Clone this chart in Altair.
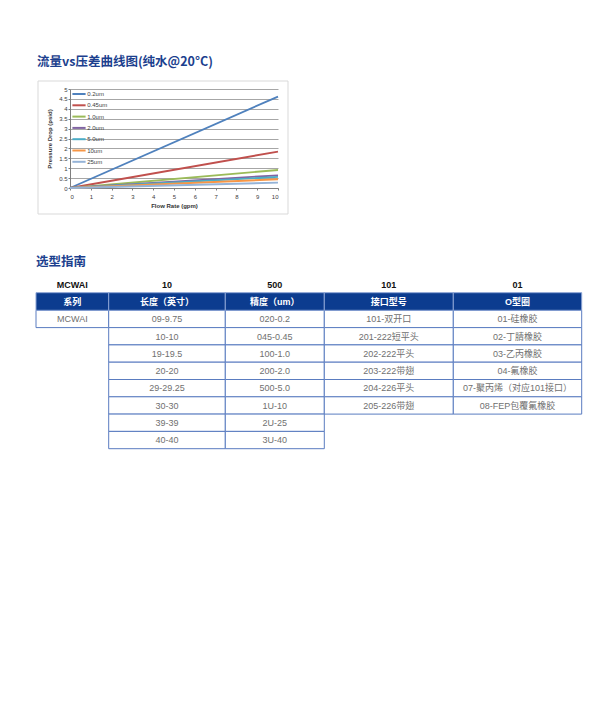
import altair as alt
import pandas as pd

# ---------------- data ----------------
series = ["0.2um", "0.45um", "1.0um", "2.0um", "5.0um", "10um", "25um"]
series_colors = ["#4F81BD", "#C0504D", "#9BBB59", "#8064A2", "#4BACC6", "#F79646", "#95B3D7"]
flow_start = 0
flow_end = 10
dp_at_start = [0, 0, 0, 0, 0, 0, 0]
dp_at_end = [4.62, 1.84, 0.91, 0.64, 0.56, 0.44, 0.27]
x_ticks = [0, 1, 2, 3, 4, 5, 6, 7, 8, 9, 10]
y_ticks = [0, 0.5, 1, 1.5, 2, 2.5, 3, 3.5, 4, 4.5, 5]

chart_title = "流量vs压差曲线图(纯水@20°C)"
guide_title = "选型指南"
code_row = ["MCWAI", "10", "500", "101", "01"]
header_row = ["系列", "长度（英寸）", "精度（um）", "接口型号", "O型圈"]
col_series = ["MCWAI"]
col_length = ["09-9.75", "10-10", "19-19.5", "20-20", "29-29.25", "30-30", "39-39", "40-40"]
col_grade = ["020-0.2", "045-0.45", "100-1.0", "200-2.0", "500-5.0", "1U-10", "2U-25", "3U-40"]
col_conn = ["101-双开口", "201-222短平头", "202-222平头", "203-222带翅", "204-226平头", "205-226带翅"]
col_oring = ["01-硅橡胶", "02-丁腈橡胶", "03-乙丙橡胶", "04-氟橡胶", "07-聚丙烯（对应101接口）", "08-FEP包覆氟橡胶"]
table_cols = [col_series, col_length, col_grade, col_conn, col_oring]

# ---------------- layout ----------------
TXT_FONT = "Liberation Sans, Arial, Noto Sans CJK SC"
CJK_FONT = "Noto Sans CJK SC"
BLUE_TITLE = "#1c3f8e"
HEAD_FILL = "#0c3c8f"
CELL_STROKE = "#5a7cc0"
COL_W = [72.7, 116.6, 99.0, 129.0, 128.4]
TABLE_LEFT = -34
CODE_Y = 8.0
HEAD_TOP = 15.7
HEAD_BOT = 33.3
ROW_H = 17.3
TABLE_H = 172

edges = [0.0]
for w in COL_W:
    edges.append(edges[-1] + w)
TOTAL_W = edges[-1]

# ---------------- line chart ----------------
line_rows = []
for s, a, b in zip(series, dp_at_start, dp_at_end):
    line_rows.append({"series": s, "flow": flow_start, "dp": a})
    line_rows.append({"series": s, "flow": flow_end, "dp": b})
line_df = pd.DataFrame(line_rows)

axis_font = "Liberation Sans"
lines = alt.Chart(line_df).mark_line(strokeWidth=1.9).encode(
    x=alt.X("flow:Q", scale=alt.Scale(domain=[0, 10], nice=False),
            axis=alt.Axis(values=x_ticks, grid=False, title="Flow Rate (gpm)",
                          titleFontSize=6, titleFontWeight="bold", titleFont=axis_font,
                          titleColor="#333333", titlePadding=3,
                          labelFontSize=6, labelFont=axis_font, labelColor="#404040",
                          labelPadding=3, tickSize=2, tickColor="#7f7f7f",
                          domainColor="#7f7f7f", format="d")),
    y=alt.Y("dp:Q", scale=alt.Scale(domain=[0, 5], nice=False),
            axis=alt.Axis(values=y_ticks, grid=True, gridColor="#a6a6a6", gridWidth=1,
                          title="Pressure Drop (psid)", titleFontSize=6, titleFontWeight="bold",
                          titleFont=axis_font, titleColor="#333333", titlePadding=6,
                          labelFontSize=6, labelFont=axis_font, labelColor="#404040",
                          labelPadding=1, tickSize=2, tickColor="#7f7f7f",
                          domainColor="#7f7f7f", format="~g")),
    color=alt.Color("series:N", sort=series,
                    scale=alt.Scale(domain=series, range=series_colors),
                    legend=alt.Legend(orient="none", legendX=5, legendY=1, title=None,
                                      symbolType="M-2.2,0H2.2", symbolSize=36,
                                      symbolStrokeWidth=2, labelFontSize=6,
                                      labelFont=axis_font, labelColor="#404040",
                                      rowPadding=3.3, padding=0, labelOffset=4.2)),
)

one = alt.Data(values=[{"k": 1}])
frame = alt.Chart(one).mark_rect(fill="transparent", stroke="#d9d9d9", strokeWidth=1).encode(
    x=alt.value(-32), x2=alt.value(218), y=alt.value(-8), y2=alt.value(125))
anchor = alt.Chart(one).mark_rect(fill="white").encode(
    x=alt.value(-61), x2=alt.value(-60), y=alt.value(-80), y2=alt.value(-79))
title1 = alt.Chart(one).mark_text(text=chart_title, align="left", baseline="middle",
                                  fontSize=12.5, fontWeight="bold", font=CJK_FONT,
                                  color=BLUE_TITLE).encode(x=alt.value(-33), y=alt.value(-27))

top = alt.layer(anchor, frame, lines, title1).properties(width=208, height=99)

# ---------------- table ----------------
cells = []
for c, col in enumerate(table_cols):
    for r, val in enumerate(col):
        y0 = HEAD_BOT + r * ROW_H
        cells.append({"x0": edges[c], "x1": edges[c + 1], "xc": (edges[c] + edges[c + 1]) / 2,
                      "y0": y0, "y1": y0 + ROW_H, "yc": y0 + ROW_H / 2 + 0.3, "t": val})
cells_df = pd.DataFrame(cells)

heads = []
for c, (code, head) in enumerate(zip(code_row, header_row)):
    heads.append({"x0": edges[c], "x1": edges[c + 1], "xc": (edges[c] + edges[c + 1]) / 2,
                  "y0": HEAD_TOP, "y1": HEAD_BOT, "yc": (HEAD_TOP + HEAD_BOT) / 2,
                  "cy": CODE_Y, "code": code, "head": head})
heads_df = pd.DataFrame(heads)

xs = alt.Scale(domain=[0, TOTAL_W], range=[TABLE_LEFT, TOTAL_W + TABLE_LEFT], nice=False, zero=False)
ys = alt.Scale(domain=[0, TABLE_H], reverse=True, nice=False, zero=False)

cell_rects = alt.Chart(cells_df).mark_rect(fill="white", stroke=CELL_STROKE, strokeWidth=1).encode(
    x=alt.X("x0:Q", scale=xs, axis=None), x2="x1",
    y=alt.Y("y0:Q", scale=ys, axis=None), y2="y1")
cell_text = alt.Chart(cells_df).mark_text(fontSize=9, font=TXT_FONT, color="#707070",
                                          baseline="middle").encode(
    x=alt.X("xc:Q", scale=xs, axis=None), y=alt.Y("yc:Q", scale=ys, axis=None), text="t:N")
head_rects = alt.Chart(heads_df).mark_rect(fill=HEAD_FILL, stroke="#8aa3d4", strokeWidth=1).encode(
    x=alt.X("x0:Q", scale=xs, axis=None), x2="x1",
    y=alt.Y("y0:Q", scale=ys, axis=None), y2="y1")
head_text = alt.Chart(heads_df).mark_text(fontSize=9, font=TXT_FONT, color="white",
                                          fontWeight="bold", baseline="middle").encode(
    x=alt.X("xc:Q", scale=xs, axis=None), y=alt.Y("yc:Q", scale=ys, axis=None), text="head:N")
code_text = alt.Chart(heads_df).mark_text(fontSize=9, font=TXT_FONT, color="#111111",
                                          fontWeight="bold", baseline="middle").encode(
    x=alt.X("xc:Q", scale=xs, axis=None), y=alt.Y("cy:Q", scale=ys, axis=None), text="code:N")
title2 = alt.Chart(one).mark_text(text=guide_title, align="left", baseline="middle",
                                  fontSize=12.5, fontWeight="bold", font=CJK_FONT,
                                  color=BLUE_TITLE).encode(x=alt.value(-34), y=alt.value(-15))

table = alt.layer(cell_rects, cell_text, head_rects, head_text, code_text, title2).properties(
    width=443, height=TABLE_H)

chart = alt.vconcat(top, table, spacing=89, bounds="flush").properties(padding=0).configure_view(
    stroke="transparent")

chart.save("out.html", embed_options={"renderer": "svg", "actions": False})
